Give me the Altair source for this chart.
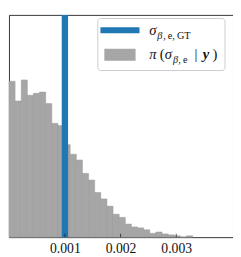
import altair as alt
import pandas as pd

# ---- data ----
bin_start = -0.000005          # left edge of first histogram bin
bin_width = 0.00011            # histogram bin width
bar_heights = [163.0, 142.4, 164.4, 148.4, 150.4, 151.7, 139.7, 119.0, 116.7, 96.7,
               86.7, 80.7, 66.7, 59.7, 46.7, 40.0, 32.4, 24.0, 20.7, 13.7,
               10.7, 9.7, 7.7, 4.0, 5.4, 3.4, 2.4, 1.4, 0.3, 1.4]
sigma_gt = [0.001]
tick_values = [0.001, 0.002, 0.003]
x_domain = [-0.000005, 0.00402]
y_max = 232.4

W, H = 229.5, 227.7
SERIF = "Liberation Serif"
BLUE = "#1f77b4"
GRAY = "#a6a6a6"

hist = pd.DataFrame({
    "x0": [bin_start + i * bin_width for i in range(len(bar_heights))],
    "x1": [bin_start + (i + 1) * bin_width for i in range(len(bar_heights))],
    "h": bar_heights,
})

xs = alt.Scale(domain=x_domain, nice=False, zero=False)
ys = alt.Scale(domain=[0, y_max], nice=False)

bars = alt.Chart(hist).mark_rect(fill=GRAY, stroke="#999999", strokeWidth=0.5).encode(
    x=alt.X("x0:Q", scale=xs,
            axis=alt.Axis(values=tick_values, format=".3f", title=None, grid=False,
                          ticks=False, tickSize=0, domain=False, labelPadding=5,
                          labelFont=SERIF, labelFontSize=14, labelColor="#111111")),
    x2="x1:Q",
    y=alt.Y("h:Q", scale=ys, axis=None),
    y2=alt.datum(0),
)

gt = alt.Chart(pd.DataFrame({"gt": sigma_gt})).mark_rule(
    color=BLUE, strokeWidth=6.5).encode(x=alt.X("gt:Q", scale=xs))

ticks = alt.Chart(pd.DataFrame({"t": tick_values})).mark_rule(
    color="#222222", strokeWidth=0.8).encode(
    x=alt.X("t:Q", scale=xs), y=alt.value(H), y2=alt.value(H - 3.5))

one = pd.DataFrame({"k": [0]})

def txt(s, x, y, size=14, style="normal", weight="normal"):
    return alt.Chart(one).mark_text(
        text=s, align="left", baseline="alphabetic", font=SERIF, fontSize=size,
        fontStyle=style, fontWeight=weight, color="#111111").encode(
        x=alt.value(x), y=alt.value(y))

legend_box = alt.Chart(one).mark_rect(
    fill="white", fillOpacity=0.8, stroke="#cccccc", strokeWidth=1, cornerRadius=3).encode(
    x=alt.value(91), x2=alt.value(221.3), y=alt.value(3.7), y2=alt.value(57))
leg_line = alt.Chart(one).mark_rule(color=BLUE, strokeWidth=6, strokeCap="butt").encode(
    x=alt.value(93.7), x2=alt.value(133.7), y=alt.value(15.7))
leg_patch = alt.Chart(one).mark_rect(fill=GRAY).encode(
    x=alt.value(97.7), x2=alt.value(129.7), y=alt.value(34.7), y2=alt.value(47))

r1 = 21.0
r2 = 45.5
legend_text = [
    txt("σ", 143.7, r1, 15, "italic"),
    txt("β", 152.0, r1 + 3.5, 10.5, "italic"),
    txt(",\u2009e,\u2009GT", 158.0, r1 + 3.5, 10.5),
    txt("π", 143.7, r2, 15, "italic"),
    txt("(", 154.5, r2, 15),
    txt("σ", 159.5, r2, 15, "italic"),
    txt("β", 168.0, r2 + 3.5, 10.5, "italic"),
    txt(",\u2009e", 173.5, r2 + 3.5, 10.5),
    txt("|", 190.0, r2, 15),
    txt("y", 198.5, r2, 15, "italic", "bold"),
    txt(")", 208.5, r2, 15),
]

chart = alt.layer(bars, gt, ticks, legend_box, leg_line, leg_patch, *legend_text).properties(
    width=W, height=H, padding={"left": 0, "top": 0, "right": 0, "bottom": 0}
).configure_view(stroke="#333333", strokeWidth=1)

chart.save("out.html", embed_options={"renderer": "svg", "actions": False})
